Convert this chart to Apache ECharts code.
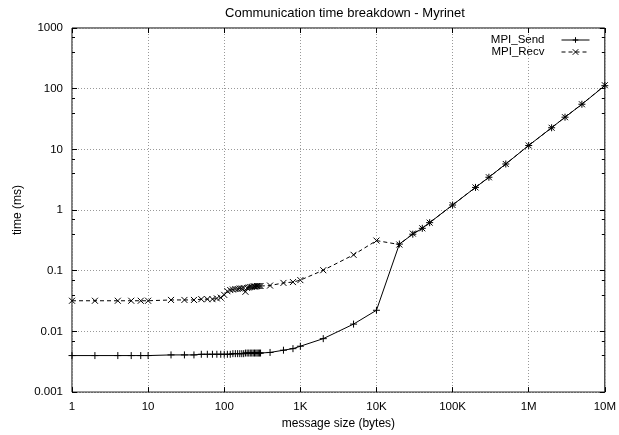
<!DOCTYPE html>
<html>
<head>
<meta charset="utf-8">
<script src="https://cdn.jsdelivr.net/npm/echarts@6/dist/echarts.min.js"></script>
<style>html,body{margin:0;padding:0;background:#fff;}#c{width:619px;height:435px;}</style>
</head>
<body>
<div id="c"></div>
<script>
var sizes = [1,2,4,6,8,10,20,30,40,50,60,70,80,90,100,
  110,120,130,140,150,160,170,180,190,200,210,220,230,240,250,260,270,280,290,300,
  400,600,800,1000,2000,5000,10000,20000,30000,40000,50000,
  100000,200000,300000,500000,1000000,2000000,3000000,5000000,10000000];
var sendTimes = [0.0040,0.0040,0.0040,0.0040,0.0040,0.0040,0.0041,0.0041,0.0041,0.0042,0.0042,0.0042,0.0042,0.0042,0.0042,
  0.0042,0.0042,0.0043,0.0043,0.0043,0.0043,0.0043,0.0043,0.0044,0.0044,0.0044,0.0044,0.0044,0.0044,0.0044,0.0044,0.0044,0.0044,0.0044,0.0044,
  0.0045,0.0049,0.0052,0.0057,0.0076,0.0132,0.0223,0.275,0.40,0.50,0.62,
  1.21,2.36,3.47,5.74,11.6,22.7,33.9,55.4,112];
var recvTimes = [0.032,0.032,0.032,0.032,0.032,0.032,0.033,0.033,0.033,0.034,0.034,0.034,0.035,0.036,0.040,
  0.046,0.048,0.049,0.050,0.050,0.051,0.051,0.052,0.045,0.052,0.053,0.054,0.054,0.055,0.055,0.055,0.056,0.056,0.056,0.056,
  0.057,0.063,0.065,0.070,0.102,0.183,0.314,0.27,0.41,0.50,0.62,
  1.21,2.36,3.47,5.74,11.6,22.7,33.9,55.4,114];
var xTickLabels = {1:'1',10:'10',100:'100',1000:'1K',10000:'10K',100000:'100K',1000000:'1M',10000000:'10M'};
var yTickLabels = ['0.001','0.01','0.1','1','10','100','1000'];

function pairs(xs, ys){ return xs.map(function(x,i){ return [x, ys[i]]; }); }
var FONT = 'Liberation Sans, Arial, Helvetica, sans-serif';
var nameTxt = {color:'#000', fontFamily: FONT, fontSize: 12};
function fmtY(v){ var s = Number(Number(v).toPrecision(3)).toString(); return yTickLabels.indexOf(s) >= 0 ? s : ''; }
function fmtX(v){ var k = Math.round(Number(v)); return xTickLabels[k] || ''; }
var gridLine = {show:true, lineStyle:{color:'#999', width:1, type:[1,2]}};

var chart = echarts.init(document.getElementById('c'), null, {renderer:'canvas'});
chart.setOption({
  animation:false,
  backgroundColor:'#fff',
  title:{text:'Communication time breakdown - Myrinet', left:340, top:2, textAlign:'center',
    textStyle:{color:'#000', fontFamily:FONT, fontSize:13, fontWeight:'normal'}},
  grid:{left:72, right:10, top:28, bottom:41, show:true, borderColor:'#000', borderWidth:1, containLabel:false},
  legend:{orient:'vertical', right:24, top:29, align:'right', itemWidth:28, itemHeight:7, itemGap:0,
    textStyle:{color:'#000', fontFamily:FONT, fontSize:11.5, padding:[0,12,0,0]},
    itemStyle:{borderWidth:1}, lineStyle:{width:1},
    data:['MPI_Send','MPI_Recv']},
  xAxis:[{type:'log', logBase:10, min:1, max:10000000, splitNumber:7,
      name:'message size (bytes)', nameLocation:'middle', nameGap:24, nameTextStyle:nameTxt,
      axisLine:{show:false}, axisTick:{show:true, inside:true, length:5, lineStyle:{color:'#000'}},
      minorTick:{show:false},
      axisLabel:{show:true, margin:9, formatter:fmtX, color:'#000', fontFamily:FONT, fontSize:11.5},
      splitLine:gridLine},
    {type:'log', logBase:10, min:1, max:10000000, splitNumber:7, position:'top',
      axisLine:{show:false}, axisTick:{show:true, inside:true, length:5, lineStyle:{color:'#000'}},
      axisLabel:{show:false}, splitLine:{show:false}}],
  yAxis:[{type:'log', logBase:10, min:0.001, max:1000, splitNumber:6,
      name:'time (ms)', nameLocation:'middle', nameGap:42, nameRotate:90, nameTextStyle:nameTxt,
      axisLine:{show:false}, axisTick:{show:true, inside:true, length:5, lineStyle:{color:'#000'}},
      minorTick:{show:true, splitNumber:3, length:3, lineStyle:{color:'#000'}},
      axisLabel:{show:true, margin:9, formatter:fmtY, color:'#000', fontFamily:FONT, fontSize:11.5},
      splitLine:gridLine},
    {type:'log', logBase:10, min:0.001, max:1000, splitNumber:6, position:'right',
      axisLine:{show:false}, axisTick:{show:true, inside:true, length:5, lineStyle:{color:'#000'}},
      minorTick:{show:true, splitNumber:3, length:3, lineStyle:{color:'#000'}},
      axisLabel:{show:false}, splitLine:{show:false}}],
  series:[
    {name:'MPI_Send', type:'line', xAxisIndex:0, yAxisIndex:0, data:pairs(sizes, sendTimes),
      color:'#000', showAllSymbol:true, symbol:'path://M0,5L10,5M5,0L5,10', symbolSize:7,
      itemStyle:{color:'#000', borderColor:'#000', borderWidth:1},
      lineStyle:{color:'#000', width:1, type:'solid'}},
    {name:'MPI_Recv', type:'line', xAxisIndex:0, yAxisIndex:0, data:pairs(sizes, recvTimes),
      color:'#000', showAllSymbol:true, symbol:'path://M0,0L10,10M10,0L0,10', symbolSize:6,
      itemStyle:{color:'#000', borderColor:'#000', borderWidth:1},
      lineStyle:{color:'#000', width:1, type:[4,3]}}
  ]
});
</script>
</body>
</html>
